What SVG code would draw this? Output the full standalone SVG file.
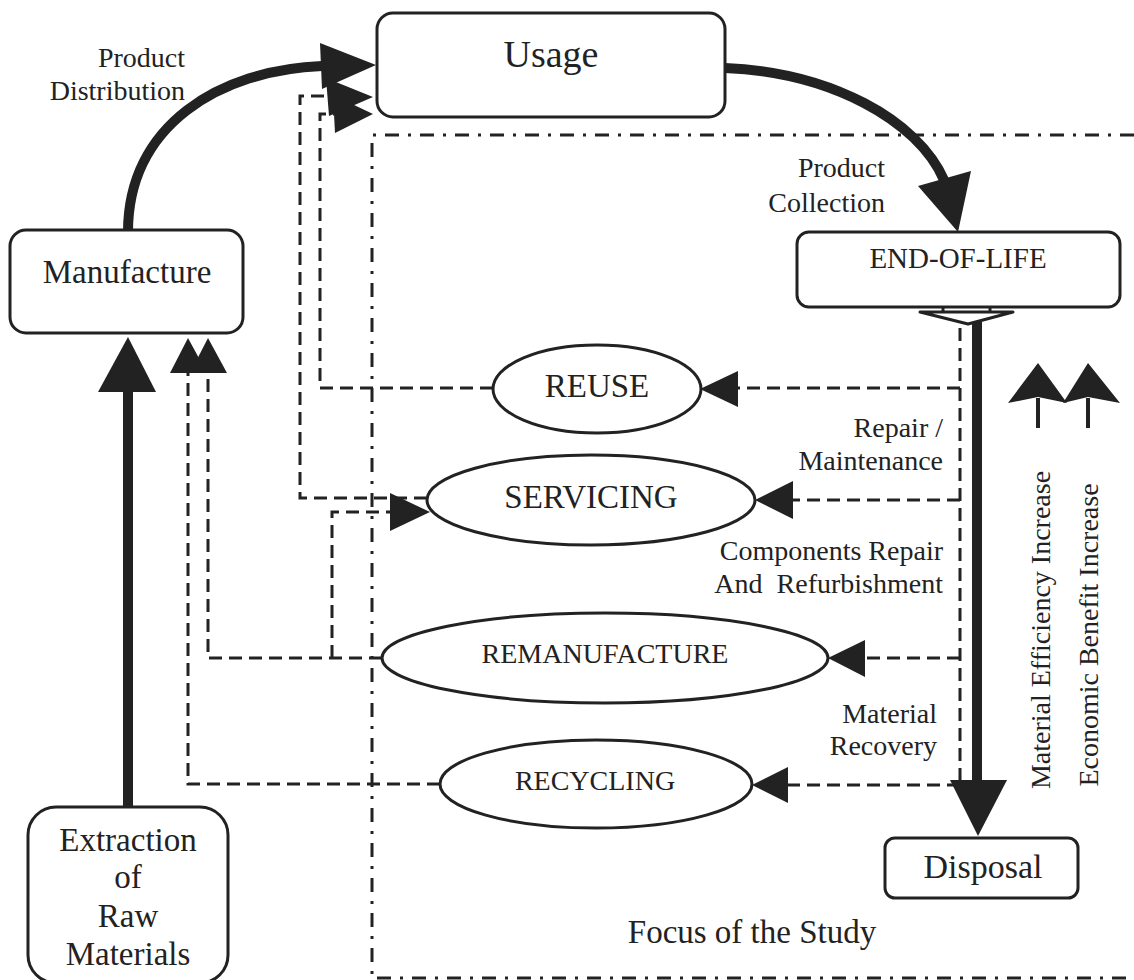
<svg xmlns="http://www.w3.org/2000/svg" width="1134" height="980" viewBox="0 0 1134 980">
<style>
.box{fill:#fff;stroke:#222;stroke-width:3}
.t{font-family:"Liberation Serif","Times New Roman",serif;fill:#222}
.dash{fill:none;stroke:#222;stroke-width:3;stroke-dasharray:13 7}
.dd{fill:none;stroke:#222;stroke-width:3;stroke-dasharray:14 9 3 9}
.thick{fill:none;stroke:#222;stroke-width:10}
.head{fill:#222;stroke:none}
.hollow{fill:#fff;stroke:#222;stroke-width:3;stroke-linejoin:round}
</style>
<rect width="1134" height="980" fill="#fff"/>

<g id="focus">
  <path class="dd" d="M1134,135 H372 V978 H1134"/>
  <text class="t" x="752" y="943" font-size="33" text-anchor="middle">Focus of the Study</text>
</g>

<g id="connectors">
  <!-- Manufacture -> Usage -->
  <path class="thick" d="M128,232 C128,125 220,70 322,66"/>
  <polygon class="head" points="320,43 376,65 322,89"/>
  <!-- Usage -> End-of-life -->
  <path class="thick" d="M725,68 C830,72 918,120 944,180"/>
  <polygon class="head" points="918,186 958,232 971,171"/>
  <!-- Extraction -> Manufacture -->
  <path class="thick" d="M128,807 V388"/>
  <polygon class="head" points="98,392 128,337 156,392"/>
  <!-- End-of-life -> Disposal -->
  <path class="thick" d="M977,322 V782"/>
  <polygon class="head" points="950,780 1007,780 978,836"/>
  <rect class="hollow" x="943" y="289" width="47" height="24"/>
  <polygon class="hollow" points="920,312 1013,312 968,324"/>
  <!-- right-side dashed distribution -->
  <path class="dash" d="M960,328 V785"/>
  <path class="dash" d="M960,388 H738"/>
  <path class="dash" d="M960,500 H793"/>
  <path class="dash" d="M960,658 H865"/>
  <path class="dash" d="M960,785 H788"/>
  <polygon class="head" points="738,371 700,389 738,407"/>
  <polygon class="head" points="793,481 755,500 793,519"/>
  <polygon class="head" points="865,640 828,658 865,677"/>
  <polygon class="head" points="788,767 752,785 788,803"/>
  <!-- left-side dashed returns -->
  <path class="dash" d="M493,388 H320 V114 H334"/>
  <path class="dash" d="M427,498 H300 V96 H327"/>
  <polygon class="head" points="326,78 373,97 329,116"/>
  <polygon class="head" points="333,95 373,114 335,133"/>
  <path class="dash" d="M382,658 H208 V373"/>
  <path class="dash" d="M332,658 V512 H392"/>
  <polygon class="head" points="390,493 430,512 390,531"/>
  <path class="dash" d="M440,784 H188 V373"/>
  <polygon class="head" points="170,373 188,338 207,373"/>
  <polygon class="head" points="190,373 208,338 227,373"/>
  <!-- increase arrows -->
  <path d="M1038,398 V428 M1088,398 V428" stroke="#222" stroke-width="4" fill="none"/>
  <polygon class="head" points="1038,363 1067,403 1038,397 1008,403"/>
  <polygon class="head" points="1088,363 1120,403 1088,397 1063,403"/>
</g>

<g id="usage">
  <rect class="box" x="377" y="13" width="348" height="104" rx="16"/>
  <text class="t" x="551" y="67" font-size="38" text-anchor="middle">Usage</text>
</g>
<g id="manufacture">
  <rect class="box" x="10" y="230" width="233" height="103" rx="16"/>
  <text class="t" x="127" y="283" font-size="33" text-anchor="middle">Manufacture</text>
</g>
<g id="extraction">
  <rect class="box" x="28" y="807" width="200" height="176" rx="28"/>
  <text class="t" x="128" font-size="33" text-anchor="middle"><tspan x="128" y="851">Extraction</tspan><tspan x="128" y="888">of</tspan><tspan x="128" y="927">Raw</tspan><tspan x="128" y="965">Materials</tspan></text>
</g>
<g id="end-of-life">
  <rect class="box" x="797" y="232" width="323" height="75" rx="12"/>
  <text class="t" x="958" y="268" font-size="29" text-anchor="middle">END-OF-LIFE</text>
</g>
<g id="disposal">
  <rect class="box" x="885" y="838" width="193" height="60" rx="10"/>
  <text class="t" x="983" y="878" font-size="34" text-anchor="middle">Disposal</text>
</g>
<g id="reuse">
  <ellipse class="box" cx="597" cy="389" rx="104" ry="44"/>
  <text class="t" x="597" y="397" font-size="33" text-anchor="middle">REUSE</text>
</g>
<g id="servicing">
  <ellipse class="box" cx="591" cy="500" rx="164" ry="45"/>
  <text class="t" x="591" y="508" font-size="33" text-anchor="middle">SERVICING</text>
</g>
<g id="remanufacture">
  <ellipse class="box" cx="605" cy="658" rx="223" ry="45"/>
  <text class="t" x="605" y="663" font-size="28" text-anchor="middle">REMANUFACTURE</text>
</g>
<g id="recycling">
  <ellipse class="box" cx="596" cy="784" rx="156" ry="44"/>
  <text class="t" x="595" y="790" font-size="28" text-anchor="middle">RECYCLING</text>
</g>

<g id="labels" class="t" font-size="28">
  <text x="185" y="67" text-anchor="end">Product</text>
  <text x="185" y="100" text-anchor="end">Distribution</text>
  <text x="885" y="177" text-anchor="end">Product</text>
  <text x="885" y="212" text-anchor="end">Collection</text>
  <text x="943" y="437" text-anchor="end">Repair /</text>
  <text x="943" y="470" text-anchor="end">Maintenance</text>
  <text x="943" y="560" text-anchor="end">Components Repair</text>
  <text x="943" y="593" text-anchor="end" style="white-space:pre">And  Refurbishment</text>
  <text x="937" y="723" text-anchor="end">Material</text>
  <text x="937" y="755" text-anchor="end">Recovery</text>
  <text transform="translate(1050,630) rotate(-90)" text-anchor="middle">Material Efficiency Increase</text>
  <text transform="translate(1098,635) rotate(-90)" text-anchor="middle">Economic Benefit Increase</text>
</g>
</svg>
